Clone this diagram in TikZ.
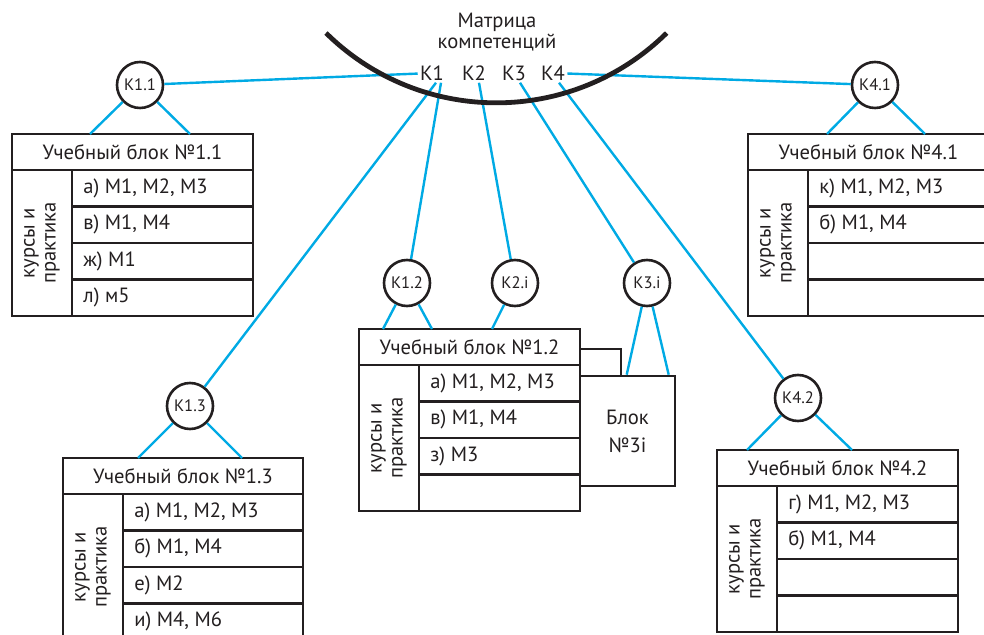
\documentclass[tikz,border=0pt]{standalone}
\usepackage{fontspec}
\setmainfont{PT Sans}
\usetikzlibrary{calc}

\definecolor{linkblue}{RGB}{0,170,228}
\definecolor{ink}{RGB}{35,31,32}

\newcommand{\txt}{\fontsize{10.3}{11.5}\selectfont}

\tikzset{
  link/.style={linkblue, line width=1.2pt},
  blockline/.style={ink, line width=1.3pt},
  comp/.style={circle, draw=ink, line width=1.3pt, fill=white, minimum size=23pt,
    inner sep=0pt, text=ink, font=\fontsize{8.3}{9}\selectfont},
  klabel/.style={inner sep=1pt, text=ink, font=\txt},
  title/.style={inner sep=0pt, text=ink, font=\txt},
  side/.style={rotate=90, align=center, inner sep=0pt, text=ink,
    font=\fontsize{10.3}{10.5}\selectfont},
  row/.style={anchor=west, inner sep=0pt, text=ink, font=\txt},
}

% block of courses: name, top left corner, width, title, four rows
\newcommand{\uchblock}[8]{%
  \coordinate (#1) at (#2);
  \draw[blockline, fill=white] (#1) rectangle ++(#3,182);
  \draw[blockline] ($(#1)+(0,36)$) -- ++(#3,0);
  \draw[blockline] ($(#1)+(60,36)$) -- ++(0,146);
  \foreach \i in {1,2,3}
    \draw[blockline] ($(#1)+(60,36+36.5*\i)$) -- ++(#3-60,0);
  \node[title] (#1t) at ($(#1)+(#3/2,18)$) {#4};
  \node[side] (#1s) at ($(#1)+(30,109)$) {курсы и\\практика};
  \node[row] (#1a) at ($(#1)+(71,54.25)$) {#5};
  \node[row] (#1b) at ($(#1)+(71,90.75)$) {#6};
  \node[row] (#1c) at ($(#1)+(71,127.25)$) {#7};
  \node[row] (#1d) at ($(#1)+(71,163.75)$) {#8};
}

\begin{document}
\begin{tikzpicture}[x=0.5pt, y=-0.5pt]
  \clip (0,0) rectangle (984,635);

  % matrix of competences
  \node[title, align=center] (mat) at (497,32.5) {Матрица\\[-1pt]компетенций};
  \node[klabel] (k1) at (432,73) {К1};
  \node[klabel] (k2) at (474,73) {К2};
  \node[klabel] (k3) at (514,73) {К3};
  \node[klabel] (k4) at (553,73) {К4};

  % block 3i behind block 1.2
  \draw[blockline] (580,349) -- (621,349) -- (621,376);
  \node[draw=ink, line width=1.3pt, fill=white, minimum width=47.5pt, minimum height=55pt,
    inner sep=0pt, align=center, text=ink, font=\fontsize{10.3}{14}\selectfont]
    (b3i) at (627.5,431) {Блок\\№3i};

  % blocks
  \uchblock{b11}{12,134}{241}{Учебный блок №1.1}{а) М1, М2, М3}{в) М1, М4}{ж) М1}{л) м5}
  \uchblock{b41}{748,134}{241}{Учебный блок №4.1}{к) М1, М2, М3}{б) М1, М4}{}{}
  \uchblock{b12}{359,329}{221}{Учебный блок №1.2}{а) М1, М2, М3}{в) М1, М4}{з) М3}{}
  \uchblock{b13}{63,458}{240}{Учебный блок №1.3}{а) М1, М2, М3}{б) М1, М4}{е) М2}{и) М4, М6}
  \uchblock{b42}{717,450}{241}{Учебный блок №4.2}{г) М1, М2, М3}{б) М1, М4}{}{}

  % competence circles
  \node[comp] (k11) at (140,85) {К1.1};
  \node[comp] (k41) at (875,85) {К4.1};
  \node[comp] (k12) at (407,283) {К1.2};
  \node[comp] (k2i) at (515,283) {К2.i};
  \node[comp] (k3i) at (647,283) {К3.i};
  \node[comp] (k13) at (190,406) {К1.3};
  \node[comp] (k42) at (798,398) {К4.2};

  % ends of links on the blocks
  \coordinate (e11l) at ($(b11)+(78,0)$);  \coordinate (e11r) at ($(b11)+(178,0)$);
  \coordinate (e41l) at ($(b41)+(79,0)$);  \coordinate (e41r) at ($(b41)+(177,0)$);
  \coordinate (e12l) at ($(b12)+(24,0)$);  \coordinate (e12r) at ($(b12)+(73,0)$);
  \coordinate (e2i)  at ($(b12)+(133,0)$);
  \coordinate (e3il) at ($(b3i.north west)+(48,0)$); \coordinate (e3ir) at ($(b3i.north west)+(90,0)$);
  \coordinate (e13l) at ($(b13)+(75,0)$);  \coordinate (e13r) at ($(b13)+(179,0)$);
  \coordinate (e42l) at ($(b42)+(30,0)$);  \coordinate (e42r) at ($(b42)+(135,0)$);

  % links
  \draw[link] (k11) -- (k1);
  \draw[link] (k4) -- (k41);
  \draw[link] ([xshift=2pt]k1.south) -- (k13);
  \draw[link] ([xshift=4.5pt]k1.south) -- (k12);
  \draw[link] ([xshift=2.5pt]k2.south) -- (k2i);
  \draw[link] ([xshift=3pt]k3.south) -- (k3i);
  \draw[link] ([xshift=3pt]k4.south) -- (k42);
  \foreach \c/\e in {k11/e11l,k11/e11r,k41/e41l,k41/e41r,k12/e12l,k12/e12r,k2i/e2i,
                     k3i/e3il,k3i/e3ir,k13/e13l,k13/e13r,k42/e42l,k42/e42r}
    \draw[link] (\c) -- (\e);

  \draw[ink, line width=2.4pt] (326,33) arc[start angle=134.6, end angle=45.4, radius=242.6];
\end{tikzpicture}
\end{document}
